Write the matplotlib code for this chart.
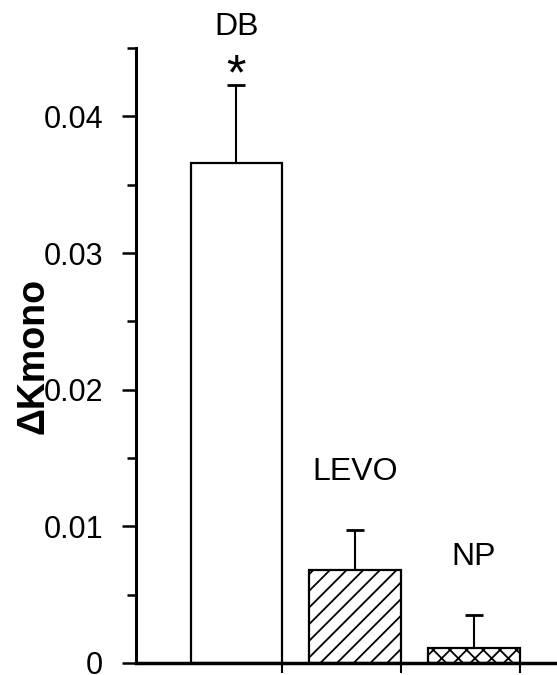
import matplotlib
matplotlib.use("Agg")
import matplotlib.pyplot as plt
from matplotlib.ticker import MultipleLocator, FormatStrFormatter
import numpy as np

# data
groups = ["DB", "LEVO", "NP"]
values = [0.0366, 0.0068, 0.0011]
errors = [0.0057, 0.0029, 0.0024]
hatches = ["", "//", "xx"]
stars = ["*", "", ""]

plt.rcParams["font.family"] = ["Liberation Sans", "DejaVu Sans"]
plt.rcParams["hatch.linewidth"] = 1.3

W, H = 557, 675
fig = plt.figure(figsize=(W / 100, H / 100), dpi=100)
# axes box in pixels: left 136, bottom 663, top 48, right edge of image
ax = fig.add_axes([136 / W, 12 / H, (W - 136) / W, (663 - 48) / H])

x = np.arange(len(groups))
width = 0.77
bars = ax.bar(x, values, width=width, color="white", edgecolor="black",
              linewidth=1.6, zorder=2)
for b, h in zip(bars, hatches):
    b.set_hatch(h)

# upper error bars only
ax.errorbar(x, values, yerr=[np.zeros(len(x)), errors], fmt="none",
            ecolor="black", elinewidth=1.5, capsize=6.8, capthick=2.0, zorder=1)

# group labels and significance marks above the error bars
for xi, v, e, name, s in zip(x, values, errors, groups, stars):
    ax.annotate(name, (xi, v + e), xytext=(0, 42), textcoords="offset points",
                ha="center", va="center", fontsize=23, annotation_clip=False)
    if s:
        ax.annotate(s, (xi, v + e), xytext=(0, -3), textcoords="offset points",
                    ha="center", va="baseline", fontsize=36,
                    annotation_clip=False)

ax.set_ylim(0, 0.045)
ax.set_xlim(-0.845, 2.70)

ax.yaxis.set_major_locator(MultipleLocator(0.01))
ax.yaxis.set_minor_locator(MultipleLocator(0.005))
ax.yaxis.set_major_formatter(FormatStrFormatter("%g"))
ax.tick_params(axis="y", which="major", length=10, width=1.8, labelsize=22, pad=13.5)
ax.tick_params(axis="y", which="minor", length=6.5, width=1.8)

ax.set_xticks(x + width / 2)
ax.set_xticklabels([])
ax.tick_params(axis="x", which="major", length=7, width=1.5, direction="out")

for side in ["top", "right"]:
    ax.spines[side].set_visible(False)
ax.spines["left"].set_linewidth(2.2)
ax.spines["bottom"].set_linewidth(2.5)

ax.set_ylabel("\u0394Kmono", fontsize=27, fontweight="bold")
ax.yaxis.set_label_coords((52 - 136) / (W - 136), (663 - 356) / (663 - 48))

fig.savefig("out.png", dpi=100)
